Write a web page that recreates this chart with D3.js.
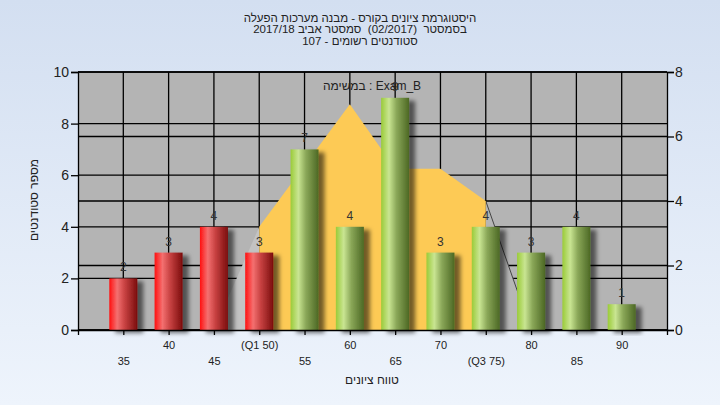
<!DOCTYPE html>
<html><head><meta charset="utf-8">
<script src="https://cdn.jsdelivr.net/npm/d3@7"></script>
<style>
html,body{margin:0;padding:0;}
body{width:720px;height:405px;overflow:hidden;}
svg{display:block;font-family:"Liberation Sans","DejaVu Sans",Arial,sans-serif;}
.pre{white-space:pre;}
</style></head>
<body>
<svg id="chart" width="720" height="405"></svg>
<script>
// ---- data ----
const categories = [35, 40, 45, 50, 55, 60, 65, 70, 75, 80, 85, 90];
const counts = [2, 3, 4, 3, 7, 4, 9, 3, 4, 3, 4, 1];
const tickLabels = ["35", "40", "45", "(Q1 50)", "55", "60", "65", "70", "(Q3 75)", "80", "85", "90"];
const curveGrades = [45, 50, 55, 60, 65, 70, 75, 80];
const curveValues = [0, 3.2, 5.1, 7, 5, 5, 4, 0];
const leftTicks = [0, 2, 4, 6, 8, 10];
const rightTicks = [0, 2, 4, 6, 8];
const q1 = 50, q3 = 75;
const titleLines = ["היסטוגרמת ציונים בקורס - מבנה מערכות הפעלה", "בסמסטר  (02/2017)  סמסטר אביב 2017/18", "סטודנטים רשומים - 107"];
const examLabel = "במשימה : Exam_B";
const yTitle = "מספר סטודנטים";
const xTitle = "טווח ציונים";

// ---- layout ----
const svg = d3.select("#chart");
const L = 78, R = 667, T = 72, B = 330;
const x = d3.scaleLinear().domain([30, 95]).range([L, R]);
const yL = d3.scaleLinear().domain([0, 10]).range([B, T]);
const yR = d3.scaleLinear().domain([0, 8]).range([B, T]);
const barW = 28;

const defs = svg.append("defs");
const bg = defs.append("linearGradient").attr("id", "bg").attr("x1", 0).attr("y1", 0).attr("x2", 0).attr("y2", 1);
bg.append("stop").attr("offset", "0%").attr("stop-color", "#d3dff1");
bg.append("stop").attr("offset", "100%").attr("stop-color", "#eef4fc");
function cyl(id, c) {
  const g = defs.append("linearGradient").attr("id", id).attr("x1", 0).attr("y1", 0).attr("x2", 1).attr("y2", 0);
  c.forEach(([o, col]) => g.append("stop").attr("offset", o).attr("stop-color", col));
}
cyl("red", [["0%", "#ff1010"], ["28%", "#f47070"], ["55%", "#c84242"], ["100%", "#7a0c0c"]]);
cyl("green", [["0%", "#9acb38"], ["28%", "#c9e592"], ["55%", "#8aa758"], ["100%", "#4c6824"]]);
const f = defs.append("filter").attr("id", "shadow").attr("x", "-30%").attr("y", "-10%").attr("width", "180%").attr("height", "130%");
f.append("feDropShadow").attr("dx", 6).attr("dy", 3).attr("stdDeviation", 2.2).attr("flood-color", "#000").attr("flood-opacity", 0.55);

svg.append("rect").attr("width", 720).attr("height", 405).attr("fill", "url(#bg)");
svg.append("rect").attr("x", L).attr("y", T).attr("width", R - L).attr("height", B - T).attr("fill", "#b4b4b4");

// gridlines
const grid = svg.append("g").attr("stroke", "#000").attr("stroke-width", 1.3);
leftTicks.forEach(v => grid.append("line").attr("x1", L).attr("x2", R).attr("y1", yL(v)).attr("y2", yL(v)));
rightTicks.forEach(v => grid.append("line").attr("x1", L).attr("x2", R).attr("y1", yR(v)).attr("y2", yR(v)));
categories.forEach(c => grid.append("line").attr("x1", x(c)).attr("x2", x(c)).attr("y1", T).attr("y2", B));

// distribution curve
const pts = curveGrades.map((g, i) => ({ g, v: curveValues[i] }));
const area = d3.area().x(d => x(d.g)).y0(yR(0)).y1(d => yR(d.v));
const line = d3.line().x(d => x(d.g)).y(d => yR(d.v));
svg.append("path").datum(pts.filter(d => d.g <= q1)).attr("d", area).attr("fill", "#c3c3c3");
svg.append("path").datum(pts.filter(d => d.g >= q3)).attr("d", area).attr("fill", "#b6b6b6");
svg.append("path").datum(pts.filter(d => d.g >= q3)).attr("d", line).attr("fill", "none").attr("stroke", "#444").attr("stroke-width", 1);
svg.append("path").datum(pts.filter(d => d.g >= q1 && d.g <= q3)).attr("d", area).attr("fill", "#fdca55");

// bars
const data = categories.map((c, i) => ({ c, n: counts[i] }));
svg.append("g").selectAll("rect").data(data).join("rect")
  .attr("x", d => x(d.c) - barW / 2).attr("width", barW)
  .attr("y", d => yL(d.n)).attr("height", d => yL(0) - yL(d.n))
  .attr("fill", d => d.c <= q1 ? "url(#red)" : "url(#green)")
  .attr("filter", "url(#shadow)");

// value labels
svg.append("g").selectAll("text").data(data).join("text")
  .attr("x", d => x(d.c)).attr("y", d => yL(d.n) - 7)
  .attr("text-anchor", "middle").attr("font-size", 12).attr("fill", "#333")
  .text(d => d.n);

// axes
const axL = svg.append("g").attr("transform", `translate(${L},0)`)
  .call(d3.axisLeft(yL).tickValues(leftTicks).tickSize(7).tickPadding(2));
const axR = svg.append("g").attr("transform", `translate(${R},0)`)
  .call(d3.axisRight(yR).tickValues(rightTicks).tickSize(7).tickPadding(1));
[axL, axR].forEach(a => {
  a.selectAll("path,line").attr("stroke", "#000").attr("stroke-width", 1.3);
  a.selectAll("text").attr("font-size", 14).attr("fill", "#222").attr("font-family", "Liberation Sans, Arial, sans-serif");
});
const axB = svg.append("g").attr("transform", `translate(0,${B})`)
  .call(d3.axisBottom(x).tickValues(categories).tickSize(5)
    .tickFormat((d, i) => tickLabels[i]));
axB.select(".domain").attr("stroke", "#000").attr("stroke-width", 1.3);
axB.selectAll("line").attr("stroke", "#000").attr("stroke-width", 1.3);
axB.selectAll("text").attr("font-size", 11).attr("fill", "#222")
  .attr("font-family", "Liberation Sans, Arial, sans-serif")
  .attr("dy", null)
  .attr("y", (d, i) => i % 2 === 1 ? 19 : 35);

// titles
svg.append("g").selectAll("text").data(titleLines).join("text")
  .attr("class", "pre")
  .attr("x", 360).attr("y", (d, i) => 21.5 + i * 11.8)
  .attr("text-anchor", "middle").attr("direction", "rtl").attr("unicode-bidi", "embed")
  .attr("font-size", 11.5).attr("fill", "#222").text(d => d);
svg.append("text").attr("x", 372).attr("y", 90).attr("text-anchor", "middle")
  .attr("font-size", 12).attr("fill", "#222").text(examLabel);
svg.append("text").attr("transform", "translate(38,200) rotate(-90)").attr("text-anchor", "middle")
  .attr("font-size", 12).attr("fill", "#222").text(yTitle);
svg.append("text").attr("x", 372).attr("y", 384).attr("text-anchor", "middle")
  .attr("font-size", 12).attr("fill", "#222").text(xTitle);
</script>
</body></html>
